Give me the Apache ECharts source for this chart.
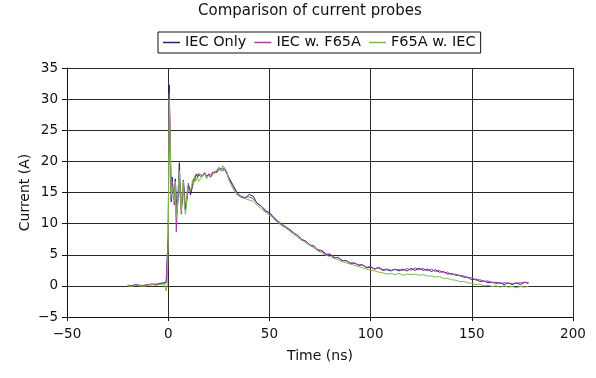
<!DOCTYPE html>
<html>
<head>
<meta charset="utf-8">
<title>Comparison of current probes</title>
<script src="https://cdn.jsdelivr.net/npm/echarts@6.0.0/dist/echarts.min.js"></script>
<style>
  html, body { margin: 0; padding: 0; background: #fff; }
  #chart { width: 596px; height: 378px; }
</style>
</head>
<body>
<div id="chart"></div>
<script>
  // --- Data ---
  var seriesNames = ['IEC Only', 'IEC w. F65A', 'F65A w. IEC'];
  var seriesColors = ['#232373', '#a43c9c', '#7cbc46'];

  // time in ns, shared by all three traces
  var times = [
    -20, -18, -16, -14, -12, -10, -8, -6, -4, -2,
    -1, -0.5, 0, 0.5, 1, 1.5, 2, 2.5, 3, 3.5, 4, 4.5, 5, 5.5, 6, 6.5, 7, 7.5, 8, 8.5,
    9, 9.5, 10, 10.5, 11, 11.5, 12, 12.5, 13, 13.5, 14, 14.5, 15, 15.5, 16,
    17, 18, 19, 20, 21, 22, 23, 24, 25, 26, 27, 28, 29, 30,
    32, 34, 36, 38, 40, 42, 44, 46, 48, 50, 52, 54, 56, 58, 60, 62, 64, 66, 68, 70,
    72, 74, 76, 78, 80, 82, 84, 86, 88, 90, 92, 94, 96, 98, 100, 102, 104, 106, 108, 110,
    112, 114, 116, 118, 120, 122, 124, 126, 128, 130, 132, 134, 136, 138, 140, 142, 144, 146, 148, 150,
    152, 154, 156, 158, 160, 162, 164, 166, 168, 170, 172, 174, 176, 178
  ];

  // current in A
  var iecOnly = [
    0.1, 0.0, 0.2, 0.1, 0.0, 0.2, 0.3, 0.2, 0.4, 0.5,
    0.6, 0.8, 8.0, 32.3, 22.0, 13.5, 17.5, 14.2, 13.8, 17.2, 14.0, 11.8, 15.5, 19.8, 15.0, 12.2, 14.0, 17.0, 15.0, 12.2,
    11.9, 14.5, 16.2, 15.8, 14.6, 14.3, 16.0, 17.2, 16.8, 17.6, 18.0, 17.4, 17.9, 18.2, 17.6,
    17.8, 18.1, 17.6, 17.9, 17.5, 18.0, 18.4, 18.2, 18.7, 18.9, 18.5, 18.8, 18.1, 17.4,
    16.2, 15.0, 14.3, 14.1, 14.7, 14.4, 13.2, 12.8, 12.0, 11.8, 11.0, 10.4, 9.8, 9.5, 9.0, 8.5, 8.1, 7.3, 7.2, 6.5,
    6.4, 5.7, 5.6, 5.0, 5.1, 4.5, 4.6, 4.0, 4.1, 3.6, 3.7, 3.3, 3.4, 2.9, 3.0, 2.7, 2.9, 2.5, 2.6, 2.4,
    2.7, 2.4, 2.7, 2.4, 2.8, 2.5, 2.8, 2.5, 2.7, 2.3, 2.6, 2.2, 2.3, 1.9, 2.0, 1.7, 1.7, 1.4, 1.4, 1.0,
    1.1, 0.7, 0.8, 0.5, 0.6, 0.4, 0.5, 0.2, 0.5, 0.2, 0.5, 0.2, 0.6, 0.4
  ];

  var iecWithF65A = [
    0.0, 0.1, 0.1, 0.0, 0.1, 0.2, 0.2, 0.3, 0.3, 0.4,
    0.5, 0.7, 7.5, 31.0, 24.0, 14.0, 16.8, 15.5, 13.0, 16.5, 8.7, 12.5, 15.0, 17.5, 14.5, 11.5, 15.0, 16.5, 13.8, 12.8,
    13.5, 15.2, 16.5, 15.0, 14.8, 15.5, 16.4, 17.0, 17.2, 17.8, 17.5, 17.9, 17.6, 18.0, 17.7,
    17.6, 18.2, 17.5, 18.0, 17.8, 18.3, 18.1, 18.5, 18.9, 18.6, 19.0, 18.6, 18.0, 17.2,
    16.0, 14.8, 14.4, 14.2, 14.3, 14.0, 13.3, 12.8, 12.2, 11.6, 11.1, 10.4, 10.0, 9.5, 9.1, 8.5, 8.1, 7.5, 7.2, 6.6,
    6.4, 5.8, 5.7, 5.1, 5.1, 4.6, 4.5, 4.1, 4.0, 3.7, 3.6, 3.4, 3.3, 3.0, 3.1, 2.7, 3.0, 2.6, 2.7, 2.5,
    2.6, 2.6, 2.5, 2.8, 2.5, 2.9, 2.6, 2.8, 2.4, 2.7, 2.3, 2.5, 2.1, 2.2, 1.8, 1.9, 1.6, 1.6, 1.3, 1.3,
    0.9, 1.0, 0.7, 0.8, 0.5, 0.6, 0.4, 0.5, 0.4, 0.4, 0.4, 0.5, 0.5, 0.6
  ];

  var f65aWithIec = [
    0.0, -0.1, 0.1, 0.0, -0.1, 0.1, 0.2, 0.1, 0.2, 0.3,
    -0.8, 0.2, 6.5, 30.0, 23.0, 14.5, 16.0, 15.0, 13.5, 16.8, 11.0, 12.0, 16.0, 18.5, 14.0, 12.0, 15.5, 16.8, 13.0, 11.5,
    13.0, 15.8, 16.0, 15.2, 15.0, 15.8, 17.0, 16.2, 17.5, 16.8, 17.0, 17.5, 16.8, 16.6, 17.2,
    17.6, 18.0, 17.2, 17.8, 17.4, 17.9, 18.2, 18.6, 19.1, 18.4, 19.3, 18.9, 18.3, 17.0,
    15.6, 14.6, 14.2, 14.0, 13.8, 13.6, 12.9, 12.4, 11.8, 11.4, 10.8, 10.2, 9.7, 9.3, 8.8, 8.3, 7.8, 7.4, 6.9, 6.5,
    6.1, 5.6, 5.3, 4.9, 4.7, 4.4, 4.2, 3.9, 3.7, 3.5, 3.3, 3.1, 2.9, 2.7, 2.5, 2.4, 2.2, 2.1, 1.9, 2.0,
    1.8, 2.0, 1.7, 1.9, 1.8, 1.9, 1.7, 1.8, 1.6, 1.6, 1.4, 1.5, 1.2, 1.2, 1.0, 0.9, 0.7, 0.7, 0.5, 0.4,
    0.2, 0.3, 0.0, 0.1, -0.1, 0.0, -0.2, 0.0, -0.2, -0.1, -0.3, -0.1, -0.2, -0.1
  ];

  var xTicks = { min: -50, max: 200, step: 50 };
  var yTicks = { min: -5, max: 35, step: 5 };

  function toPairs(values) {
    return times.map(function (t, i) { return [t, values[i]]; });
  }

  function signedLabel(v) {
    return v < 0 ? '\u2212' + Math.abs(v) : String(v);
  }

  var chart = echarts.init(document.getElementById('chart'), null, { renderer: 'canvas' });
  var font = 'DejaVu Sans, Verdana, sans-serif';

  var option = {
    animation: false,
    backgroundColor: '#fff',
    title: {
      text: 'Comparison of current probes',
      left: 198,
      top: 4,
      padding: 0,
      textStyle: { fontFamily: font, fontSize: 15, fontWeight: 'normal', color: '#111' }
    },
    legend: {
      top: 32,
      left: 158,
      data: seriesNames,
      icon: 'rect',
      itemWidth: 17,
      itemHeight: 1.5,
      itemGap: 8,
      padding: [3, 5, 3, 5],
      borderColor: '#111',
      borderWidth: 1,
      borderRadius: 0,
      textStyle: { fontFamily: font, fontSize: 14.5, color: '#111' }
    },
    grid: { left: 67, right: 23, top: 68, bottom: 61 },
    xAxis: {
      type: 'value',
      min: xTicks.min,
      max: xTicks.max,
      interval: xTicks.step,
      name: 'Time (ns)',
      nameLocation: 'middle',
      nameGap: 32,
      nameMoveOverlap: false,
      nameTextStyle: { fontFamily: font, fontSize: 14, color: '#111' },
      axisLine: { show: true, onZero: false, lineStyle: { color: '#111', width: 1 } },
      axisTick: { show: true, inside: false, length: 4, lineStyle: { color: '#111' } },
      axisLabel: { fontFamily: font, fontSize: 13.5, color: '#111', margin: 10, formatter: signedLabel },
      splitLine: { show: true, lineStyle: { color: '#2a2a2a', width: 1 } }
    },
    yAxis: {
      type: 'value',
      min: yTicks.min,
      max: yTicks.max,
      interval: yTicks.step,
      name: 'Current (A)',
      nameLocation: 'middle',
      nameGap: 35,
      nameMoveOverlap: false,
      nameTextStyle: { fontFamily: font, fontSize: 14, color: '#111' },
      axisLine: { show: true, onZero: false, lineStyle: { color: '#111', width: 1 } },
      axisTick: { show: true, inside: false, length: 5, lineStyle: { color: '#111' } },
      axisLabel: { fontFamily: font, fontSize: 13.5, color: '#111', margin: 9, formatter: signedLabel },
      splitLine: { show: true, lineStyle: { color: '#2a2a2a', width: 1 } }
    },
    series: [iecOnly, iecWithF65A, f65aWithIec].map(function (vals, i) {
      return {
        name: seriesNames[i],
        type: 'line',
        data: toPairs(vals),
        symbol: 'none',
        smooth: false,
        color: seriesColors[i],
        lineStyle: { color: seriesColors[i], width: 1 },
        z: 2 + i
      };
    })
  };

  chart.setOption(option);
</script>
</body>
</html>
